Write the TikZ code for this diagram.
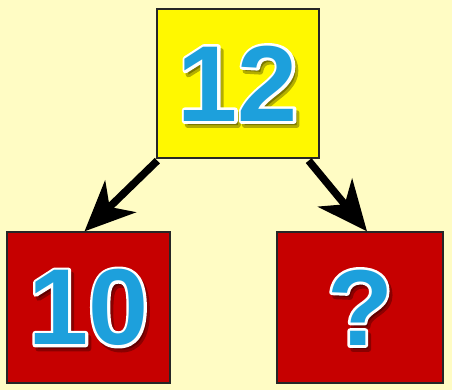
\documentclass[tikz,border=0pt]{standalone}
\usepackage{fontspec}
\setmainfont{Liberation Sans}
\usetikzlibrary{arrows.meta}
\definecolor{bgc}{HTML}{FFFCC4}
\definecolor{yelc}{HTML}{FFF800}
\definecolor{redc}{HTML}{C60000}
\definecolor{bluec}{HTML}{1DA0DC}
\tikzset{
  boxnode/.style={draw=black!85, line width=1.3pt, inner sep=0pt},
  numtxt/.style={inner sep=0pt, font=\fontsize{108}{108}\selectfont\bfseries},
  treearrow/.style={line width=7.5pt, -{Stealth[length=50pt,width=44pt,inset=15pt]}},
}
\newcommand\strokeon{\special{pdf:literal direct 2 Tr 5.5 w 1 j}}
\newcommand\strokeoff{\special{pdf:literal direct 0 Tr}}
\newcommand\fancytext[3]{%
  \node[numtxt, text=black, opacity=0.3] at ([shift={(3pt,-4pt)}]#2) {\strokeon#3\strokeoff};
  \node[numtxt, text=white] at (#2) {\strokeon#3\strokeoff};
  \node[numtxt, text=bluec] (#1) at (#2) {#3};
}
\begin{document}
\begin{tikzpicture}[x=1pt,y=-1pt]
\fill[bgc] (0,0) rectangle (452,390);
\useasboundingbox (0,0) rectangle (452,390);
\node[boxnode, fill=yelc, minimum width=162pt, minimum height=149pt] (top) at (238,83.5) {};
\node[boxnode, fill=redc, minimum width=163pt, minimum height=151pt] (lb) at (88.5,307.5) {};
\node[boxnode, fill=redc, minimum width=166pt, minimum height=151pt] (rb) at (360,307.5) {};
\fancytext{t12}{top.center}{12}
\fancytext{t10}{lb.center}{10}
\fancytext{tq}{rb.center}{?}
\draw[treearrow] ([shift={(1pt,-2pt)}]top.south west) -- ([xshift=-4pt]lb.north);
\draw[treearrow] ([shift={(-11pt,-2pt)}]top.south east) -- ([xshift=7pt]rb.north);
\end{tikzpicture}
\end{document}
